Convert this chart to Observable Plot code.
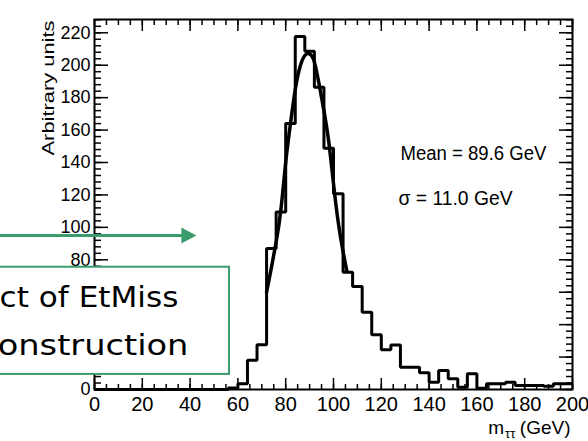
<!DOCTYPE html>
<html>
<head>
<meta charset="utf-8">
<script src="https://cdn.jsdelivr.net/npm/d3@7"></script>
<script src="https://cdn.jsdelivr.net/npm/@observablehq/plot@0.6"></script>
<style>
  html, body { margin: 0; padding: 0; background: #fff; }
  #chart svg { display: block; }
</style>
</head>
<body>
<div id="chart"></div>
<script>
// ---- data ----
const binLowEdges = [0,4,8,12,16,20,24,28,32,36,40,44,48,52,56,60,64,68,72,76,80,84,88,92,96,100,104,108,112,116,120,124,128,132,136,140,144,148,152,156,160,164,168,172,176,180,184,188,192,196];
const binCounts = [0,0,0,0,0,0,0,0,0,0,0,0,0,0,1,3.5,18,27.6,87,109.4,164,217.7,208.6,186.4,148.8,120.7,72.3,63.5,47.7,33.7,24.5,27.4,13.8,13.8,10.3,4.5,11.7,6.6,1.4,9.7,0.8,3.5,3.5,4.5,2.5,2.5,2.5,2,3.5,3.5];
const binWidth = 4;
const fitX = [72, 74, 76, 78, 80, 82, 84, 86, 88, 90, 92, 94, 96, 98, 100, 102, 104, 105.6];
const fitY = [60, 75, 91, 111, 140, 164, 185, 199, 206, 207, 202, 188, 172, 153, 127, 103, 85, 73];
const xTickLabels = [0, 20, 40, 60, 80, 100, 120, 140, 160, 180, 200];
const yTickLabels = [0, 20, 40, 60, 80, 100, 120, 140, 160, 180, 200, 220];
const statLines = ["Mean = 89.6 GeV", "\u03c3 = 11.0 GeV"];
const boxLines = ["Effect of EtMiss", "reconstruction"];
const yTitle = "Arbitrary units";

// ---- layout ----
const W = 588, H = 441, mL = 94, mR = 16, mT = 19, mB = 52;
const fw = W - mL - mR, fh = H - mT - mB;
const green = "#3a9b6c";
const sans = "Liberation Sans, Arial, Helvetica, sans-serif";

const histPts = binLowEdges.map((x, i) => ({x, y: binCounts[i]}));
histPts.push({x: binLowEdges[binLowEdges.length - 1] + binWidth, y: binCounts[binCounts.length - 1]});
const fitPts = fitX.map((x, i) => ({x, y: fitY[i]}));

const xMinor = d3.range(0, 201, 5);
const yMinor = d3.range(0, 229, 4);

const triRight = {
  draw(ctx, size) {
    const s = Math.sqrt(size / Math.PI);
    ctx.moveTo(s, 0);
    ctx.lineTo(-s, -s * 1.07);
    ctx.lineTo(-s, s * 1.07);
    ctx.closePath();
  }
};

const svg = Plot.plot({
  width: W, height: H,
  marginLeft: mL, marginRight: mR, marginTop: mT, marginBottom: mB,
  style: {fontFamily: sans, background: "white", color: "black"},
  x: {domain: [0, 200], axis: null},
  y: {domain: [0, 228.2], axis: null},
  marks: [
    // inward ticks
    Plot.tickY(yMinor, {y: d => d, insetRight: fw - 7, stroke: "black", strokeWidth: 1.5}),
    Plot.tickY(yTickLabels, {y: d => d, insetRight: fw - 14, stroke: "black", strokeWidth: 1.5}),
    Plot.tickY(yMinor, {y: d => d, insetLeft: fw - 6, stroke: "black", strokeWidth: 1.5}),
    Plot.tickY(yTickLabels, {y: d => d, insetLeft: fw - 13, stroke: "black", strokeWidth: 1.5}),
    Plot.tickX(xMinor, {x: d => d, insetTop: fh - 5, stroke: "black", strokeWidth: 1.5}),
    Plot.tickX(xTickLabels, {x: d => d, insetTop: fh - 11, stroke: "black", strokeWidth: 1.5}),
    Plot.tickX(xMinor, {x: d => d, insetBottom: fh - 6, stroke: "black", strokeWidth: 1.5}),
    Plot.tickX(xTickLabels, {x: d => d, insetBottom: fh - 12, stroke: "black", strokeWidth: 1.5}),
    Plot.frame({stroke: "black", strokeWidth: 2}),
    // tick labels
    Plot.text(yTickLabels, {y: d => d, text: d => String(d), frameAnchor: "left", dx: -4, textAnchor: "end", fontSize: 18, fill: "black"}),
    Plot.text(xTickLabels, {x: d => d, text: d => String(d), frameAnchor: "bottom", dy: 21.5, lineAnchor: "bottom", fontSize: 20, fill: "black"}),
    // axis titles
    Plot.text([yTitle], {text: d => d, frameAnchor: "top-left", dx: -41, dy: 1, rotate: -90, textAnchor: "end", lineAnchor: "bottom", fontSize: 17, fill: "black"}),
    Plot.text(["m"], {text: d => d, frameAnchor: "bottom-right", dx: -68.5, dy: 44.5, textAnchor: "end", lineAnchor: "bottom", fontSize: 19, fill: "black"}),
    Plot.text(["\u03c4\u03c4"], {text: d => d, frameAnchor: "bottom-right", dx: -67.5, dy: 48.5, textAnchor: "start", lineAnchor: "bottom", fontSize: 13, fill: "black"}),
    Plot.text(["(GeV)"], {text: d => d, frameAnchor: "bottom-right", dx: -2, dy: 44.5, textAnchor: "end", lineAnchor: "bottom", fontSize: 19, fill: "black"}),
    // histogram outline
    Plot.line(histPts, {x: "x", y: "y", curve: "step-after", stroke: "black", strokeWidth: 3, strokeLinejoin: "miter", strokeLinecap: "butt"}),
    // fit curve
    Plot.line(fitPts, {x: "x", y: "y", curve: "natural", stroke: "black", strokeWidth: 3.5}),
    // stats
    Plot.text([statLines[0]], {text: d => d, x: 128, y: 141.7, textAnchor: "start", lineAnchor: "bottom", fontSize: 20, fill: "black"}),
    Plot.text([statLines[1]], {text: d => d, x: 127.2, y: 113.5, textAnchor: "start", lineAnchor: "bottom", fontSize: 20, fill: "black"}),
    // annotation box + arrow
    Plot.rect([0], {x1: -45, x2: 56.5, y1: 9.3, y2: 75.4, fill: "white", stroke: green, strokeWidth: 2}),
    Plot.link([0], {x1: -45, x2: 37.5, y1: 95, y2: 95, stroke: green, strokeWidth: 3}),
    Plot.dot([0], {x: 39.5, y: 95, symbol: triRight, r: 7.5, fill: green, stroke: "none"}),
    Plot.text([boxLines[0]], {text: d => d, x: 35.1, y: 50.8, textAnchor: "end", lineAnchor: "bottom", fontFamily: "DejaVu Sans", fontSize: 29, fill: "black"}),
    Plot.text([boxLines[1]], {text: d => d, x: 39.3, y: 21, textAnchor: "end", lineAnchor: "bottom", fontFamily: "DejaVu Sans", fontSize: 29, fill: "black"})
  ]
});

// fit text widths to the reference's rendering
const lengths = {
  [yTitle]: 135,
  [statLines[0]]: 146,
  [statLines[1]]: 114,
  [boxLines[0]]: 239,
  [boxLines[1]]: 243
};
d3.select(svg).selectAll("text").each(function () {
  const t = this.textContent;
  if (lengths[t]) {
    d3.select(this).attr("textLength", lengths[t]).attr("lengthAdjust", "spacingAndGlyphs");
  }
});

document.getElementById("chart").appendChild(svg);
</script>
</body>
</html>
